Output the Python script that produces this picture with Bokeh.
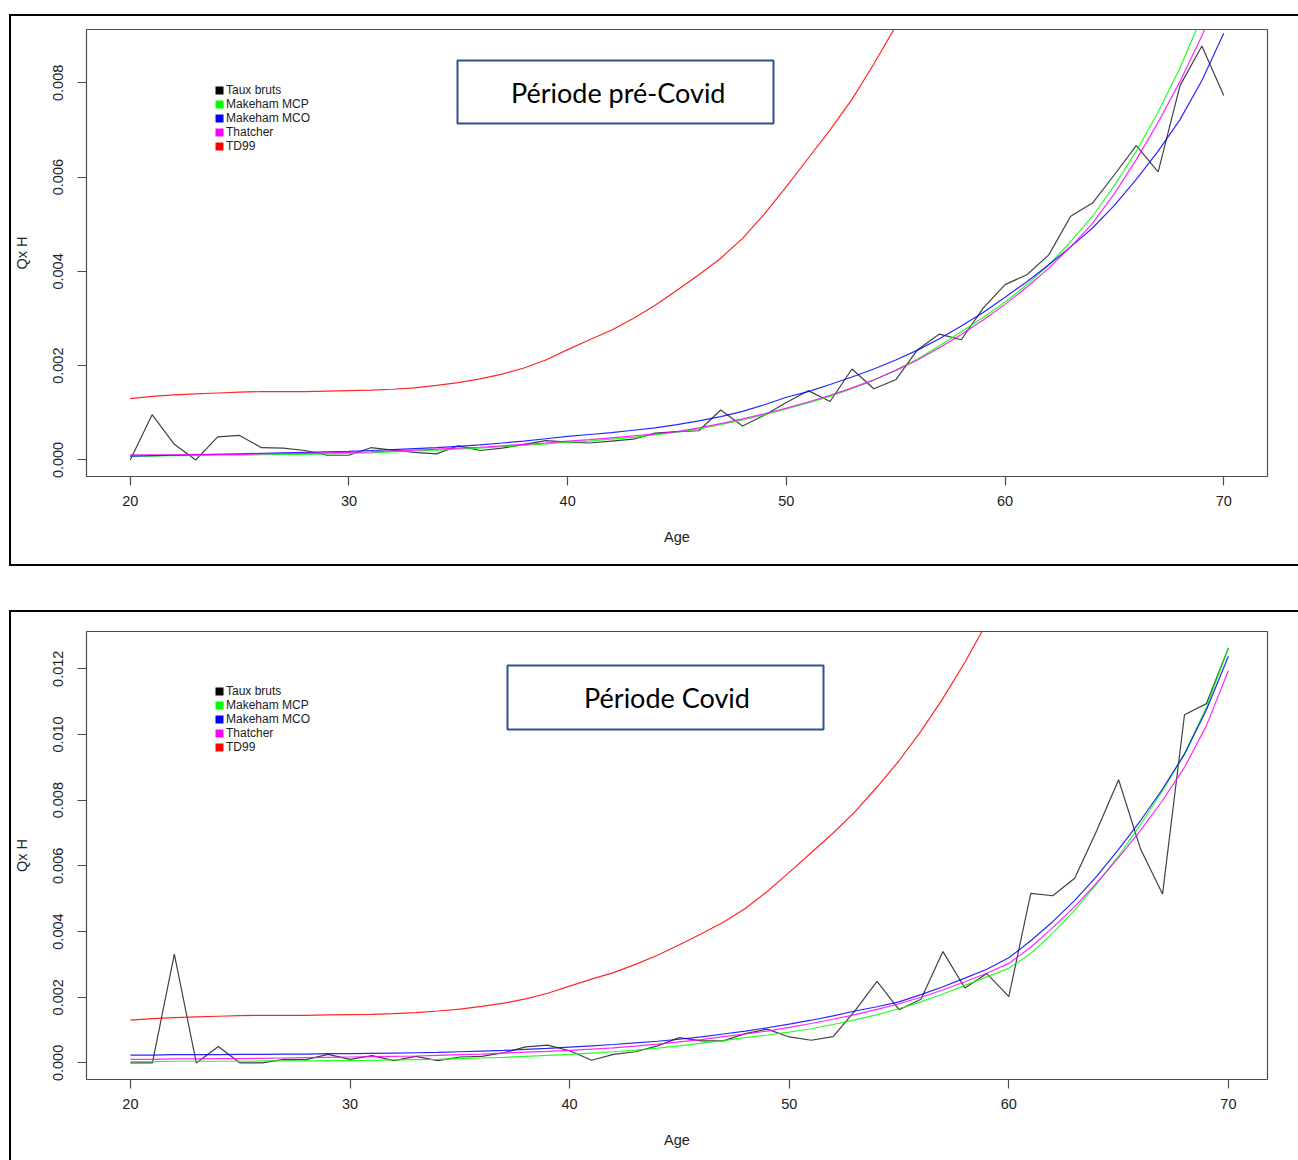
from bokeh.plotting import figure
from bokeh.models import (Range1d, FixedTicker, NumeralTickFormatter, Legend, LegendItem,
                          BoxAnnotation, Label, Node)
from bokeh.layouts import column
from bokeh.embed import file_html
from bokeh.resources import INLINE

ages = list(range(20, 71))
x_ticks = [20, 30, 40, 50, 60, 70]
legend_labels = ["Taux bruts", "Makeham MCP", "Makeham MCO", "Thatcher", "TD99"]
titles = ["Période pré-Covid", "Période Covid"]
y_ticks_pre = [0.000, 0.002, 0.004, 0.006, 0.008]
y_ticks_covid = [0.000, 0.002, 0.004, 0.006, 0.008, 0.010, 0.012]

# ---------------- Période pré-Covid ----------------
pre_taux_bruts = [0.0, 0.00096, 0.00034, 0.0, 0.00049, 0.00052, 0.00026, 0.00025, 0.0002, 0.0001,
                  0.0001, 0.00026, 0.00021, 0.00016, 0.00013, 0.0003, 0.0002, 0.00025, 0.00033, 0.00041,
                  0.00038, 0.00036, 0.0004, 0.00044, 0.00057, 0.0006, 0.00062, 0.00106, 0.00072, 0.00095,
                  0.00122, 0.00147, 0.00124, 0.00193, 0.00151, 0.0017, 0.00234, 0.00267, 0.00255, 0.00322,
                  0.00372, 0.00393, 0.00435, 0.00517, 0.00545, 0.00605, 0.00667, 0.00611, 0.00794, 0.00878,
                  0.00773]
pre_makeham_mcp = [0.00008, 0.00008, 0.00009, 0.00009, 0.0001, 0.0001, 0.00011, 0.00012, 0.00012, 0.00013,
                   0.00014, 0.00015, 0.00017, 0.00019, 0.00021, 0.00023, 0.00025, 0.00028, 0.00031, 0.00034,
                   0.00037, 0.0004, 0.00044, 0.00048, 0.00053, 0.00059, 0.00066, 0.00075, 0.00085, 0.00096,
                   0.00108, 0.00121, 0.00135, 0.00151, 0.00169, 0.0019, 0.00214, 0.00242, 0.00272, 0.00302,
                   0.00335, 0.00372, 0.00414, 0.00463, 0.00517, 0.00582, 0.00655, 0.00738, 0.00832, 0.0094,
                   0.0106]
pre_makeham_mco = [0.00008, 0.00009, 0.0001, 0.00011, 0.00012, 0.00013, 0.00014, 0.00015, 0.00016, 0.00017,
                   0.00018, 0.0002, 0.00022, 0.00024, 0.00026, 0.00029, 0.00032, 0.00036, 0.0004, 0.00045,
                   0.0005, 0.00054, 0.00058, 0.00063, 0.00068, 0.00075, 0.00083, 0.00092, 0.00103, 0.00117,
                   0.00133, 0.00145, 0.0016, 0.00176, 0.00193, 0.00212, 0.00233, 0.00257, 0.00284, 0.00313,
                   0.00345, 0.00378, 0.00414, 0.00452, 0.00492, 0.0054, 0.00595, 0.00655, 0.00722, 0.00805,
                   0.00905]
pre_thatcher = [0.00011, 0.00011, 0.00011, 0.00012, 0.00012, 0.00012, 0.00013, 0.00014, 0.00014, 0.00015,
                0.00016, 0.00017, 0.00019, 0.00021, 0.00023, 0.00025, 0.00027, 0.0003, 0.00033, 0.00036,
                0.0004, 0.00043, 0.00047, 0.00051, 0.00055, 0.0006, 0.00068, 0.00077, 0.00087, 0.00098,
                0.0011, 0.00123, 0.00137, 0.00153, 0.0017, 0.0019, 0.00212, 0.00238, 0.00266, 0.00297,
                0.0033, 0.00367, 0.00407, 0.00452, 0.00502, 0.00565, 0.00637, 0.00716, 0.00803, 0.009,
                0.0101]
td99 = [0.0013, 0.00135, 0.00138, 0.0014, 0.00142, 0.00144, 0.00145, 0.00145, 0.00145, 0.00146,
        0.00147, 0.00148, 0.0015, 0.00153, 0.00158, 0.00164, 0.00172, 0.00182, 0.00195, 0.00212,
        0.00234, 0.00255, 0.00275, 0.003, 0.00328, 0.0036, 0.00393, 0.00428, 0.0047, 0.00522,
        0.0058, 0.0064, 0.007, 0.00765, 0.0084, 0.0092, 0.0101, 0.0111, 0.0122, 0.0134,
        0.0147, 0.016, 0.0175, 0.0191, 0.0208, 0.0226, 0.0245, 0.0266, 0.0289, 0.0314,
        0.034]

# ---------------- Période Covid ----------------
cov_taux_bruts = [0.0, 0.0, 0.00331, 0.0, 0.0005, 0.0, 0.0, 0.00011, 0.0001, 0.00026,
                  0.00011, 0.00022, 0.00007, 0.0002, 0.00007, 0.00018, 0.0002, 0.00031, 0.00049, 0.00054,
                  0.00037, 0.00008, 0.00026, 0.00034, 0.00052, 0.00077, 0.00067, 0.00067, 0.00089, 0.00103,
                  0.00079, 0.00069, 0.0008, 0.00159, 0.00248, 0.00162, 0.00194, 0.00339, 0.00228, 0.00272,
                  0.00202, 0.00516, 0.00509, 0.00562, 0.00707, 0.00862, 0.00651, 0.00514, 0.0106, 0.01094,
                  0.01263]
cov_makeham_mcp = [0.00004, 0.00004, 0.00005, 0.00005, 0.00005, 0.00005, 0.00006, 0.00006, 0.00006, 0.00007,
                   0.00007, 0.00008, 0.00009, 0.0001, 0.00011, 0.00013, 0.00015, 0.00017, 0.0002, 0.00023,
                   0.00026, 0.0003, 0.00034, 0.00039, 0.00045, 0.00052, 0.0006, 0.00068, 0.00077, 0.00085,
                   0.00094, 0.00104, 0.00117, 0.00131, 0.00147, 0.00165, 0.00186, 0.0021, 0.00236, 0.00262,
                   0.00288, 0.00333, 0.00395, 0.00465, 0.00545, 0.0063, 0.00726, 0.00829, 0.00941, 0.01083,
                   0.01264]
cov_makeham_mco = [0.00024, 0.00024, 0.00025, 0.00025, 0.00025, 0.00026, 0.00026, 0.00027, 0.00027, 0.00028,
                   0.00028, 0.00029, 0.0003, 0.00031, 0.00032, 0.00034, 0.00036, 0.00038, 0.00041, 0.00044,
                   0.00048, 0.00052, 0.00056, 0.00061, 0.00066, 0.00072, 0.00079, 0.00088, 0.00097, 0.00107,
                   0.00118, 0.0013, 0.00143, 0.00158, 0.00171, 0.00186, 0.00208, 0.00232, 0.00258, 0.00285,
                   0.0032, 0.00372, 0.0043, 0.00495, 0.00568, 0.0065, 0.00738, 0.00834, 0.0094, 0.01075,
                   0.01238]
cov_thatcher = [0.00011, 0.00011, 0.00012, 0.00012, 0.00013, 0.00013, 0.00014, 0.00015, 0.00016, 0.00017,
                0.00018, 0.00019, 0.0002, 0.00021, 0.00023, 0.00025, 0.00027, 0.0003, 0.00033, 0.00035,
                0.00038, 0.00042, 0.00046, 0.00051, 0.00057, 0.00064, 0.00071, 0.0008, 0.00088, 0.00097,
                0.00108, 0.0012, 0.00133, 0.00147, 0.00163, 0.0018, 0.002, 0.00222, 0.00247, 0.00273,
                0.00303, 0.00352, 0.00412, 0.00476, 0.00548, 0.00625, 0.00708, 0.00799, 0.009, 0.01027,
                0.01195]

COLORS = ["#000000", "#00FF00", "#0000FF", "#FF00FF", "#FF0000"]
FONT = "Liberation Sans"
AXIS_COL = "#4d4d4d"
TXT_COL = "#222222"
NAN = float("nan")


def node_box(box, **kw):
    l, t, r_, b = box
    return BoxAnnotation(left=Node(target="canvas", symbol="left", offset=l),
                         right=Node(target="canvas", symbol="left", offset=r_),
                         top=Node(target="canvas", symbol="top", offset=t),
                         bottom=Node(target="canvas", symbol="top", offset=b), **kw)


def bars_css(bars):
    # outer black panel frame drawn as CSS background bars behind the transparent canvas border
    parts = [f"linear-gradient(#000,#000) {x}px {y}px / {w}px {h}px no-repeat" for (x, y, w, h) in bars]
    return ", ".join(parts) + ", #ffffff"


def make_panel(series, y_min, y_max, x_end, y_ticks, height, b_top, b_bottom, b_right,
               frame_bars, title_box, title_text, title_xy, legend_xy):
    p = figure(width=1298, height=height, x_range=Range1d(18, x_end), y_range=Range1d(y_min, y_max),
               output_backend="svg", toolbar_location=None,
               min_border_left=86, min_border_right=b_right,
               min_border_top=b_top, min_border_bottom=b_bottom,
               styles={"background": bars_css(frame_bars)})
    p.grid.visible = False
    p.outline_line_color = AXIS_COL
    p.outline_line_width = 1.2
    p.background_fill_color = "white"
    p.border_fill_color = None

    for ax in (p.xaxis[0], p.yaxis[0]):
        ax.axis_line_color = None
        ax.major_tick_line_color = AXIS_COL
        ax.major_tick_line_width = 1.2
        ax.major_tick_out = 9
        ax.major_tick_in = 0
        ax.minor_tick_line_color = None
        ax.major_label_text_font = FONT
        ax.major_label_text_font_size = "14.5px"
        ax.major_label_text_color = TXT_COL
        ax.axis_label_text_font = FONT
        ax.axis_label_text_font_size = "14.5px"
        ax.axis_label_text_font_style = "normal"
        ax.axis_label_text_color = TXT_COL

    p.xaxis.ticker = FixedTicker(ticks=x_ticks)
    p.xaxis.axis_label = "Age"
    p.xaxis.major_label_standoff = 10
    p.xaxis.axis_label_standoff = 20

    p.yaxis.ticker = FixedTicker(ticks=y_ticks)
    p.yaxis.formatter = NumeralTickFormatter(format="0.000")
    p.yaxis.major_label_orientation = "vertical"
    p.yaxis.axis_label = "Qx H"
    p.yaxis.major_label_standoff = 14
    p.yaxis.axis_label_standoff = 21

    for vals, col in zip(series, COLORS):
        alpha = 0.75 if col == "#000000" else 0.85
        p.line(ages, vals, line_color=col, line_width=1.2, line_alpha=alpha)

    # legend with square keys (invisible NaN quads only provide the key glyphs)
    items = []
    for lab, col in zip(legend_labels, COLORS):
        r = p.quad(left=[NAN], right=[NAN], top=[NAN], bottom=[NAN], fill_color=col, line_color=None)
        items.append(LegendItem(label=lab, renderers=[r]))
    leg = Legend(items=items, location=legend_xy, glyph_width=10, glyph_height=10,
                 label_height=14, label_standoff=2, spacing=0, padding=0, margin=0,
                 border_line_color=None, background_fill_alpha=0,
                 label_text_font=FONT, label_text_font_size="12px", label_text_color=TXT_COL)
    p.add_layout(leg, "center")

    # title box
    p.add_layout(node_box(title_box, fill_color="white", fill_alpha=1, line_color="#2F528F",
                          line_width=2, line_alpha=1))
    p.add_layout(Label(x=title_xy[0], y=title_xy[1], x_units="screen", y_units="screen",
                       text=title_text, text_font="Lato", text_font_size="27px",
                       text_color="black", text_align="center", text_baseline="alphabetic"))
    return p


p1 = make_panel([pre_taux_bruts, pre_makeham_mcp, pre_makeham_mco, pre_thatcher, td99],
                -0.000351, 0.009131, 72, y_ticks_pre, 590, 29, 114, 31,
                [(9, 13.5, 1289, 2), (9, 13.5, 2, 552), (9, 563.5, 1289, 2)],
                (457, 60, 773, 123), titles[0], (531.7, 384.3), (128, 323))
p2 = make_panel([cov_taux_bruts, cov_makeham_mcp, cov_makeham_mco, cov_thatcher, td99],
                -0.000505, 0.013135, 71.78, y_ticks_covid, 570, 41, 81, 31,
                [(9, 20, 1289, 2), (9, 20, 2, 550)],
                (507, 75, 823, 139), titles[1], (580.5, 381.7), (128, 325))

layout = column(p1, p2, spacing=0)
open("out.html", "w").write(file_html(layout, INLINE))
